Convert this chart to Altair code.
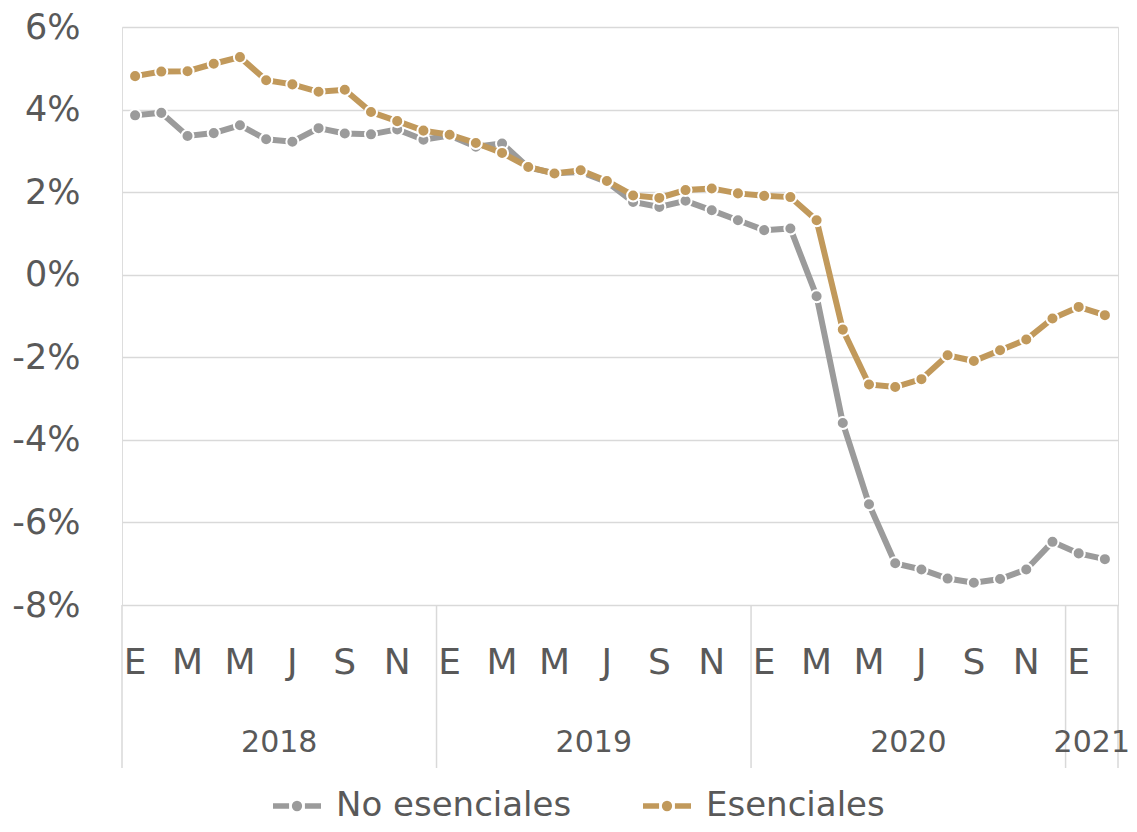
import altair as alt
import pandas as pd

# ---------------- data ----------------
years = ["2018"] * 12 + ["2019"] * 12 + ["2020"] * 12 + ["2021"] * 2
month_initials = ["E", "F", "M", "A", "M", "J", "J", "A", "S", "O", "N", "D"]

no_esenciales = [
    3.86, 3.92, 3.36, 3.43, 3.62, 3.28, 3.22, 3.55, 3.42, 3.40, 3.52, 3.27,
    3.37, 3.10, 3.18, 2.60, 2.46, 2.49, 2.25, 1.76, 1.64, 1.79, 1.56, 1.32,
    1.08, 1.12, -0.52, -3.59, -5.56, -6.99, -7.14, -7.36, -7.46, -7.37, -7.14, -6.47,
    -6.75, -6.89,
]
esenciales = [
    4.81, 4.92, 4.93, 5.11, 5.27, 4.71, 4.61, 4.43, 4.48, 3.94, 3.72, 3.49,
    3.39, 3.19, 2.95, 2.61, 2.45, 2.53, 2.27, 1.92, 1.86, 2.05, 2.09, 1.97,
    1.91, 1.88, 1.32, -1.33, -2.66, -2.72, -2.53, -1.95, -2.09, -1.83, -1.57, -1.06,
    -0.78, -0.98,
]
series_names = ["No esenciales", "Esenciales"]
series_colors = ["#9b9b9b", "#c1995b"]
y_ticks = [-8, -6, -4, -2, 0, 2, 4, 6]

# ---------------- tables ----------------
n = len(no_esenciales)
rows = []
for name, vals in zip(series_names, [no_esenciales, esenciales]):
    for i, v in enumerate(vals):
        rows.append({"pos": i + 0.5, "serie": name, "valor": v})
df = pd.DataFrame(rows)

months_df = pd.DataFrame(
    [{"pos": i + 0.5, "mes": month_initials[i % 12]} for i in range(n) if i % 2 == 0]
)

year_rows, bounds = [], [0]
start = 0
for i in range(1, n + 1):
    if i == n or years[i] != years[start]:
        year_rows.append({"pos": (start + i) / 2, "anio": years[start]})
        bounds.append(i)
        start = i
years_df = pd.DataFrame(year_rows)
bounds_df = pd.DataFrame({"pos": bounds})

# ---------------- styling ----------------
FONT = "DejaVu Sans"
TXT = "#595959"
GRID = "#d9d9d9"
W, H = 996, 578

x_scale = alt.Scale(domain=[0, n], nice=False, zero=False)
y_scale = alt.Scale(domain=[-8, 6], nice=False, zero=False)
color_scale = alt.Scale(domain=series_names, range=series_colors)

legend_path = (
    "M-1,0 H-0.33 M0.33,0 H1 "
    "M-0.1,0 A0.1,0.1 0 1,0 0.1,0 A0.1,0.1 0 1,0 -0.1,0 Z"
)
legend = alt.Legend(
    title=None,
    orient="none",
    direction="horizontal",
    legendX=148,
    legendY=752,
    symbolType=legend_path,
    symbolSize=2304,
    symbolStrokeWidth=5.5,
    labelFontSize=34,
    labelFont=FONT,
    labelColor=TXT,
    labelOffset=12,
    labelLimit=600,
    columnPadding=60,
    padding=0,
)

y_axis = alt.Axis(
    values=y_ticks,
    labelExpr="datum.value + '%'",
    grid=True,
    gridColor=GRID,
    gridWidth=1.5,
    domain=False,
    ticks=False,
    tickSize=0,
    labelPadding=42,
    labelFontSize=35,
    labelFont=FONT,
    labelColor=TXT,
    title=None,
)

x_enc = alt.X("pos:Q", scale=x_scale, axis=None)

layers = []
for name in series_names:
    base = alt.Chart(df).transform_filter(alt.datum.serie == name)
    line = base.mark_line(strokeWidth=6).encode(
        x=x_enc,
        y=alt.Y("valor:Q", scale=y_scale, axis=y_axis),
        color=alt.Color("serie:N", scale=color_scale, legend=legend),
    )
    pts = base.mark_circle(size=145, opacity=1, stroke="white", strokeWidth=2).encode(
        x=x_enc,
        y=alt.Y("valor:Q", scale=y_scale),
        color=alt.Color("serie:N", scale=color_scale, legend=None),
    )
    layers += [line, pts]

seps = alt.Chart(bounds_df).mark_rule(color=GRID, strokeWidth=1.5).encode(
    x=x_enc, y=alt.value(H), y2=alt.value(H + 163)
)
month_text = alt.Chart(months_df).mark_text(
    fontSize=36, font=FONT, color=TXT, baseline="middle", align="center"
).encode(x=x_enc, y=alt.value(H + 58), text="mes:N")
year_text = alt.Chart(years_df).mark_text(
    fontSize=30, font=FONT, color=TXT, baseline="middle", align="center"
).encode(x=x_enc, y=alt.value(H + 138), text="anio:N")

chart = (
    alt.layer(seps, month_text, year_text, *layers)
    .properties(
        width=W,
        height=H,
        autosize=alt.AutoSizeParams(type="none"),
        padding={"left": 114, "top": 19, "right": 11, "bottom": 219},
    )
    .configure_view(stroke=None)
    .configure(font=FONT)
)

chart.save("out.html", embed_options={"renderer": "svg", "actions": False})
